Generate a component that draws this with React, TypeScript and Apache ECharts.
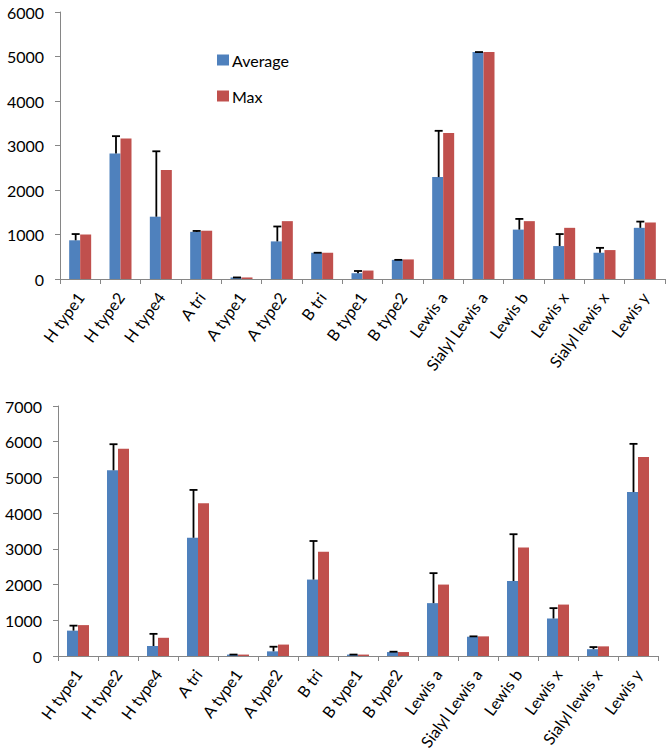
import React, { useEffect, useRef } from "react";
import * as echarts from "echarts";

const categories = [
  "H type1", "H type2", "H type4", "A tri", "A type1", "A type2", "B tri",
  "B type1", "B type2", "Lewis a", "Sialyl Lewis a", "Lewis b", "Lewis x",
  "Sialyl lewis x", "Lewis y",
];

// Top chart
const avgTop = [870, 2820, 1400, 1060, 35, 845, 590, 130, 430, 2290, 5100, 1110, 740, 590, 1150];
const errTop = [140, 390, 1470, 20, 0, 335, 0, 50, 0, 1040, 0, 240, 270, 110, 140];
const maxTop = [1000, 3160, 2450, 1085, 35, 1300, 590, 190, 440, 3280, 5100, 1300, 1150, 650, 1270];

// Bottom chart
const avgBottom = [710, 5200, 280, 3310, 40, 130, 2140, 40, 110, 1480, 540, 2100, 1050, 190, 4590];
const errBottom = [140, 730, 340, 1340, 0, 130, 1080, 0, 10, 840, 10, 1310, 290, 60, 1350];
const maxBottom = [865, 5800, 510, 4280, 40, 320, 2920, 40, 110, 2000, 550, 3040, 1440, 270, 5570];

const BLUE = "#4F81BD";
const RED = "#C0504D";
const AXIS = "#868686";
const FONT = "Lato";
const BAR_W = 11;

function errorSeries(name: string, idx: number, avg: number[], err: number[]) {
  return {
    name,
    type: "custom",
    xAxisIndex: idx,
    yAxisIndex: idx,
    z: 5,
    silent: true,
    encode: { x: 0, y: [1, 2] },
    data: avg.map((v, i) => [i, v, v + err[i]]),
    renderItem: (params: any, api: any) => {
      const i = api.value(0);
      const lo = api.coord([i, api.value(1)]);
      const hi = api.coord([i, api.value(2)]);
      const x = lo[0] - BAR_W / 2 + 1;
      const style = { stroke: "#000", lineWidth: 1.8 };
      return {
        type: "group",
        children: [
          { type: "line", shape: { x1: x, y1: lo[1], x2: x, y2: hi[1] }, style },
          { type: "line", shape: { x1: x - 4, y1: hi[1], x2: x + 4, y2: hi[1] }, style },
        ],
      };
    },
  };
}

export default function App() {
  const ref = useRef<HTMLDivElement>(null);
  useEffect(() => {
    if (!ref.current) return;
    const chart = echarts.init(ref.current, null, { renderer: "svg" });
    const xAxisBase = (gridIndex: number) => ({
      type: "category",
      gridIndex,
      data: categories,
      axisLine: { lineStyle: { color: AXIS, width: 1 } },
      axisTick: { show: true, length: 5, lineStyle: { color: AXIS } },
      axisLabel: {
        rotate: 54,
        interval: 0,
        margin: 15,
        color: "#000",
        fontSize: 16,
        fontFamily: FONT,
      },
    });
    const yAxisBase = (gridIndex: number, max: number) => ({
      type: "value",
      gridIndex,
      min: 0,
      max,
      interval: 1000,
      splitLine: { show: false },
      axisLine: { show: true, lineStyle: { color: AXIS, width: 1 } },
      axisTick: { show: true, length: 5, lineStyle: { color: AXIS } },
      axisLabel: {
        margin: 16,
        color: "#000",
        fontSize: 16,
        fontFamily: FONT,
        formatter: (v: number) => String(v),
      },
    });
    const barSeries = (name: string, idx: number, data: number[], color: string) => ({
      name,
      type: "bar",
      xAxisIndex: idx,
      yAxisIndex: idx,
      data,
      barWidth: BAR_W,
      barGap: "0%",
      itemStyle: { color },
    });
    chart.setOption({
      animation: false,
      textStyle: { fontFamily: FONT },
      legend: {
        data: ["Average", "Max"],
        orient: "vertical",
        left: 212,
        top: 47,
        itemWidth: 12,
        itemHeight: 11,
        itemGap: 20,
        icon: "rect",
        textStyle: { fontSize: 16, color: "#000", fontFamily: FONT, padding: [0, 0, 0, -2] },
      },
      grid: [
        { left: 60, right: 6, top: 12, bottom: 474, outerBoundsMode: "none" },
        { left: 58, right: 13, top: 406, bottom: 97, outerBoundsMode: "none" },
      ],
      xAxis: [xAxisBase(0), xAxisBase(1)],
      yAxis: [yAxisBase(0, 6000), yAxisBase(1, 7000)],
      series: [
        barSeries("Average", 0, avgTop, BLUE),
        barSeries("Max", 0, maxTop, RED),
        errorSeries("errTop", 0, avgTop, errTop),
        barSeries("Average", 1, avgBottom, BLUE),
        barSeries("Max", 1, maxBottom, RED),
        errorSeries("errBottom", 1, avgBottom, errBottom),
      ],
    });
    return () => chart.dispose();
  }, []);
  return (
    <div
      ref={ref}
      style={{ position: "fixed", left: 0, top: 0, width: 671, height: 753, background: "#fff" }}
    />
  );
}
